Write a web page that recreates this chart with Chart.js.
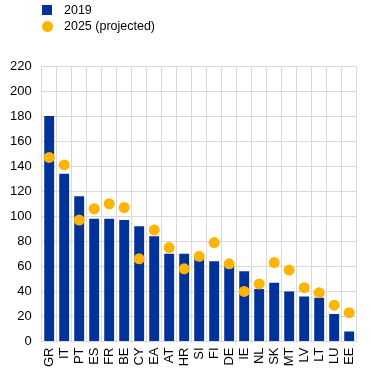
<!DOCTYPE html>
<html>
<head>
<meta charset="utf-8">
<script src="https://cdn.jsdelivr.net/npm/chart.js@4/dist/chart.umd.min.js"></script>
<style>
  html, body { margin: 0; padding: 0; background: #fff; }
  #wrap { position: relative; width: 371px; height: 373px; }
  #legend { position: absolute; left: 42px; top: 2px; font: 12.5px "Liberation Sans", Arial, sans-serif; color: #000; }
  .item { height: 16px; line-height: 16px; display: flex; align-items: center; }
  .sw { width: 10px; height: 10px; margin-right: 12px; }
  .sq { background: #003299; }
  .dot { background: #ffb400; border-radius: 50%; width: 11px; height: 11px; margin-right: 11px; }
</style>
</head>
<body>
<div id="wrap">
  <div id="legend">
    <div class="item"><span class="sw sq"></span>2019</div>
    <div class="item"><span class="sw dot"></span>2025 (projected)</div>
  </div>
  <canvas id="chart" width="371" height="373"></canvas>
</div>
<script>
// debt ratios, % of GDP
const countries = ['GR', 'IT', 'PT', 'ES', 'FR', 'BE', 'CY', 'EA', 'AT', 'HR', 'SI', 'FI', 'DE', 'IE', 'NL', 'SK', 'MT', 'LV', 'LT', 'LU', 'EE'];
const debt2019 = [180, 134, 116, 98, 98, 97, 92, 84, 70, 70, 66, 64, 60, 56, 42, 47, 40, 36, 35, 22, 8];
const debt2025 = [147, 141, 97, 106, 110, 107, 66, 89, 75, 58, 68, 79, 62, 40, 46, 63, 57, 43, 39, 29, 23];

const font = { family: '"Liberation Sans", Arial, sans-serif', size: 13 };

new Chart(document.getElementById('chart'), {
    type: 'bar',
    data: {
        labels: countries,
        datasets: [
            {
                type: 'line',
                label: '2025 (projected)',
                data: debt2025,
                showLine: false,
                pointRadius: 5.5,
                pointBackgroundColor: '#ffb400',
                pointBorderWidth: 0,
                order: 1
            },
            {
                label: '2019',
                data: debt2019,
                backgroundColor: '#003299',
                barPercentage: 0.66,
                categoryPercentage: 1,
                order: 2
            }
        ]
    },
    options: {
        responsive: false,
        animation: false,
        layout: { padding: { top: 66, right: 9, left: 0, bottom: 0 } },
        plugins: {
            legend: { display: false },
            tooltip: { enabled: false }
        },
        scales: {
            x: {
                offset: true,
                grid: { color: '#d9d9d9', offset: true, drawTicks: false },
                border: { color: '#d9d9d9' },
                ticks: { color: '#000', font: font, minRotation: 90, maxRotation: 90, autoSkip: false, padding: 6 }
            },
            y: {
                min: 0,
                max: 220,
                grid: { color: '#d9d9d9', drawTicks: false },
                border: { color: '#d9d9d9' },
                ticks: { stepSize: 20, color: '#000', font: font, padding: 10 }
            }
        }
    }
});
</script>
</body>
</html>
